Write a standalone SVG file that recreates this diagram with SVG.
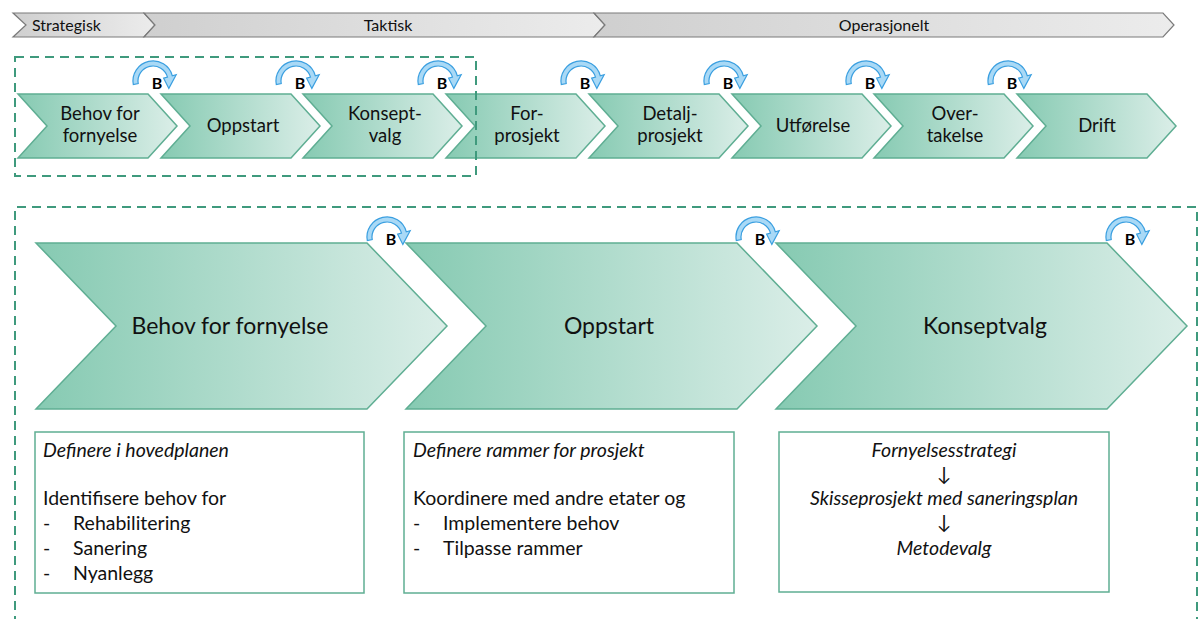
<svg xmlns="http://www.w3.org/2000/svg" width="1200" height="619" viewBox="0 0 1200 619">
<style>
text{font-family:Lato,"Open Sans","DejaVu Sans",sans-serif;fill:#111}
.bar{stroke:#7a7a7a;stroke-width:1.2;fill:url(#gBar)}
.bt{font-size:16px}
.ch{fill:url(#gCh);stroke:#5fae93;stroke-width:1.5}
.st{font-size:18.5px;text-anchor:middle}
.lt{font-size:23px;text-anchor:middle}
.dash{fill:none;stroke:#3f9a7d;stroke-width:2;stroke-dasharray:9 6}
.box{fill:#fff;stroke:#5fae93;stroke-width:1.5}
.bx{font-size:19.5px}
.it{font-style:italic}
.mid{text-anchor:middle}
.barc{fill:#a9d9f6;stroke:#3a9fe0;stroke-width:1.2}
.bl{font-size:16px;font-weight:bold;text-anchor:middle;fill:#000}
</style>
<defs>
<linearGradient id="gBar" x1="0" y1="0" x2="1" y2="0">
<stop offset="0" stop-color="#cfcfcf"/><stop offset="1" stop-color="#ececec"/>
</linearGradient>
<linearGradient id="gCh" x1="0" y1="0" x2="1" y2="0">
<stop offset="0" stop-color="#86cab2"/><stop offset="1" stop-color="#dbeee8"/>
</linearGradient>
<g id="bIcon">
<path class="barc" d="M-23.70,1.47 A20,20 0 0,1 15.32,-7.18 L19.18,-8.21 L11.86,5.40 L6.63,-4.85 L10.49,-5.88 A15,15 0 0,0 -18.77,0.60 Z"/>
<text class="bl" x="0" y="6">B</text>
</g>
</defs>

<g id="phase-bar">
<polygon class="bar" points="13,13 144,13 155,25 144,37 13,37 26,25"/>
<text class="bt" x="32" y="30.5">Strategisk</text>
<polygon class="bar" points="144,13 594,13 605,25 594,37 144,37 155,25"/>
<text class="bt mid" x="388" y="30.5">Taktisk</text>
<polygon class="bar" points="594,13 1163,13 1174,25 1163,37 594,37 605,25"/>
<text class="bt mid" x="884" y="30.5">Operasjonelt</text>
</g>

<g id="small-chevrons">
<g id="s1"><polygon class="ch" points="18,94 148,94 177,126 148,158 18,158 47,126"/>
<text class="st" x="100" y="120">Behov for</text><text class="st" x="100" y="142">fornyelse</text></g>
<g id="s2"><polygon class="ch" points="161,94 291,94 320,126 291,158 161,158 190,126"/>
<text class="st" x="243" y="132">Oppstart</text></g>
<g id="s3"><polygon class="ch" points="303,94 433,94 462,126 433,158 303,158 332,126"/>
<text class="st" x="385" y="120">Konsept-</text><text class="st" x="385" y="142">valg</text></g>
<g id="s4"><polygon class="ch" points="446,94 576,94 605,126 576,158 446,158 475,126"/>
<text class="st" x="527" y="120">For-</text><text class="st" x="527" y="142">prosjekt</text></g>
<g id="s5"><polygon class="ch" points="589,94 719,94 748,126 719,158 589,158 618,126"/>
<text class="st" x="670" y="120">Detalj-</text><text class="st" x="670" y="142">prosjekt</text></g>
<g id="s6"><polygon class="ch" points="732,94 862,94 891,126 862,158 732,158 761,126"/>
<text class="st" x="813" y="132">Utførelse</text></g>
<g id="s7"><polygon class="ch" points="874,94 1004,94 1033,126 1004,158 874,158 903,126"/>
<text class="st" x="955" y="120">Over-</text><text class="st" x="955" y="142">takelse</text></g>
<g id="s8"><polygon class="ch" points="1017,94 1147,94 1176,126 1147,158 1017,158 1046,126"/>
<text class="st" x="1097" y="132">Drift</text></g>
</g>

<g id="small-b-icons">
<use href="#bIcon" x="157" y="83"/>
<use href="#bIcon" x="300" y="83"/>
<use href="#bIcon" x="442" y="83"/>
<use href="#bIcon" x="585" y="83"/>
<use href="#bIcon" x="728" y="83"/>
<use href="#bIcon" x="870" y="83"/>
<use href="#bIcon" x="1012" y="83"/>
</g>

<g id="frames">
<rect class="dash" x="15" y="57" width="461" height="119"/>
<path class="dash" d="M15,640 V207 H1197 V640"/>
</g>

<g id="large-chevrons">
<g id="l1"><polygon class="ch" points="36,243 367,243 447,326 367,409 36,409 116,326"/>
<text class="lt" x="230" y="334">Behov for fornyelse</text></g>
<g id="l2"><polygon class="ch" points="406,243 737,243 817,326 737,409 406,409 486,326"/>
<text class="lt" x="609" y="334">Oppstart</text></g>
<g id="l3"><polygon class="ch" points="776,243 1107,243 1187,326 1107,409 776,409 856,326"/>
<text class="lt" x="985" y="334">Konseptvalg</text></g>
</g>

<g id="large-b-icons">
<use href="#bIcon" x="391" y="239"/>
<use href="#bIcon" x="760" y="239"/>
<use href="#bIcon" x="1130" y="239"/>
</g>

<g id="box1">
<rect class="box" x="35" y="432" width="329" height="161"/>
<text class="bx it" x="43" y="457">Definere i hovedplanen</text>
<text class="bx" x="43" y="505">Identifisere behov for</text>
<text class="bx" x="43" y="530">-</text><text class="bx" x="73" y="530">Rehabilitering</text>
<text class="bx" x="43" y="555">-</text><text class="bx" x="73" y="555">Sanering</text>
<text class="bx" x="43" y="580">-</text><text class="bx" x="73" y="580">Nyanlegg</text>
</g>
<g id="box2">
<rect class="box" x="404" y="432" width="330" height="161"/>
<text class="bx it" x="413" y="457">Definere rammer for prosjekt</text>
<text class="bx" x="413" y="505">Koordinere med andre etater og</text>
<text class="bx" x="413" y="530">-</text><text class="bx" x="443" y="530">Implementere behov</text>
<text class="bx" x="413" y="555">-</text><text class="bx" x="443" y="555">Tilpasse rammer</text>
</g>
<g id="box3">
<rect class="box" x="779" y="432" width="330" height="160"/>
<text class="bx it mid" x="944" y="457">Fornyelsesstrategi</text>
<text class="bx mid" x="944" y="481">↓</text>
<text class="bx it mid" x="944" y="505">Skisseprosjekt med saneringsplan</text>
<text class="bx mid" x="944" y="529">↓</text>
<text class="bx it mid" x="944" y="555">Metodevalg</text>
</g>
</svg>
